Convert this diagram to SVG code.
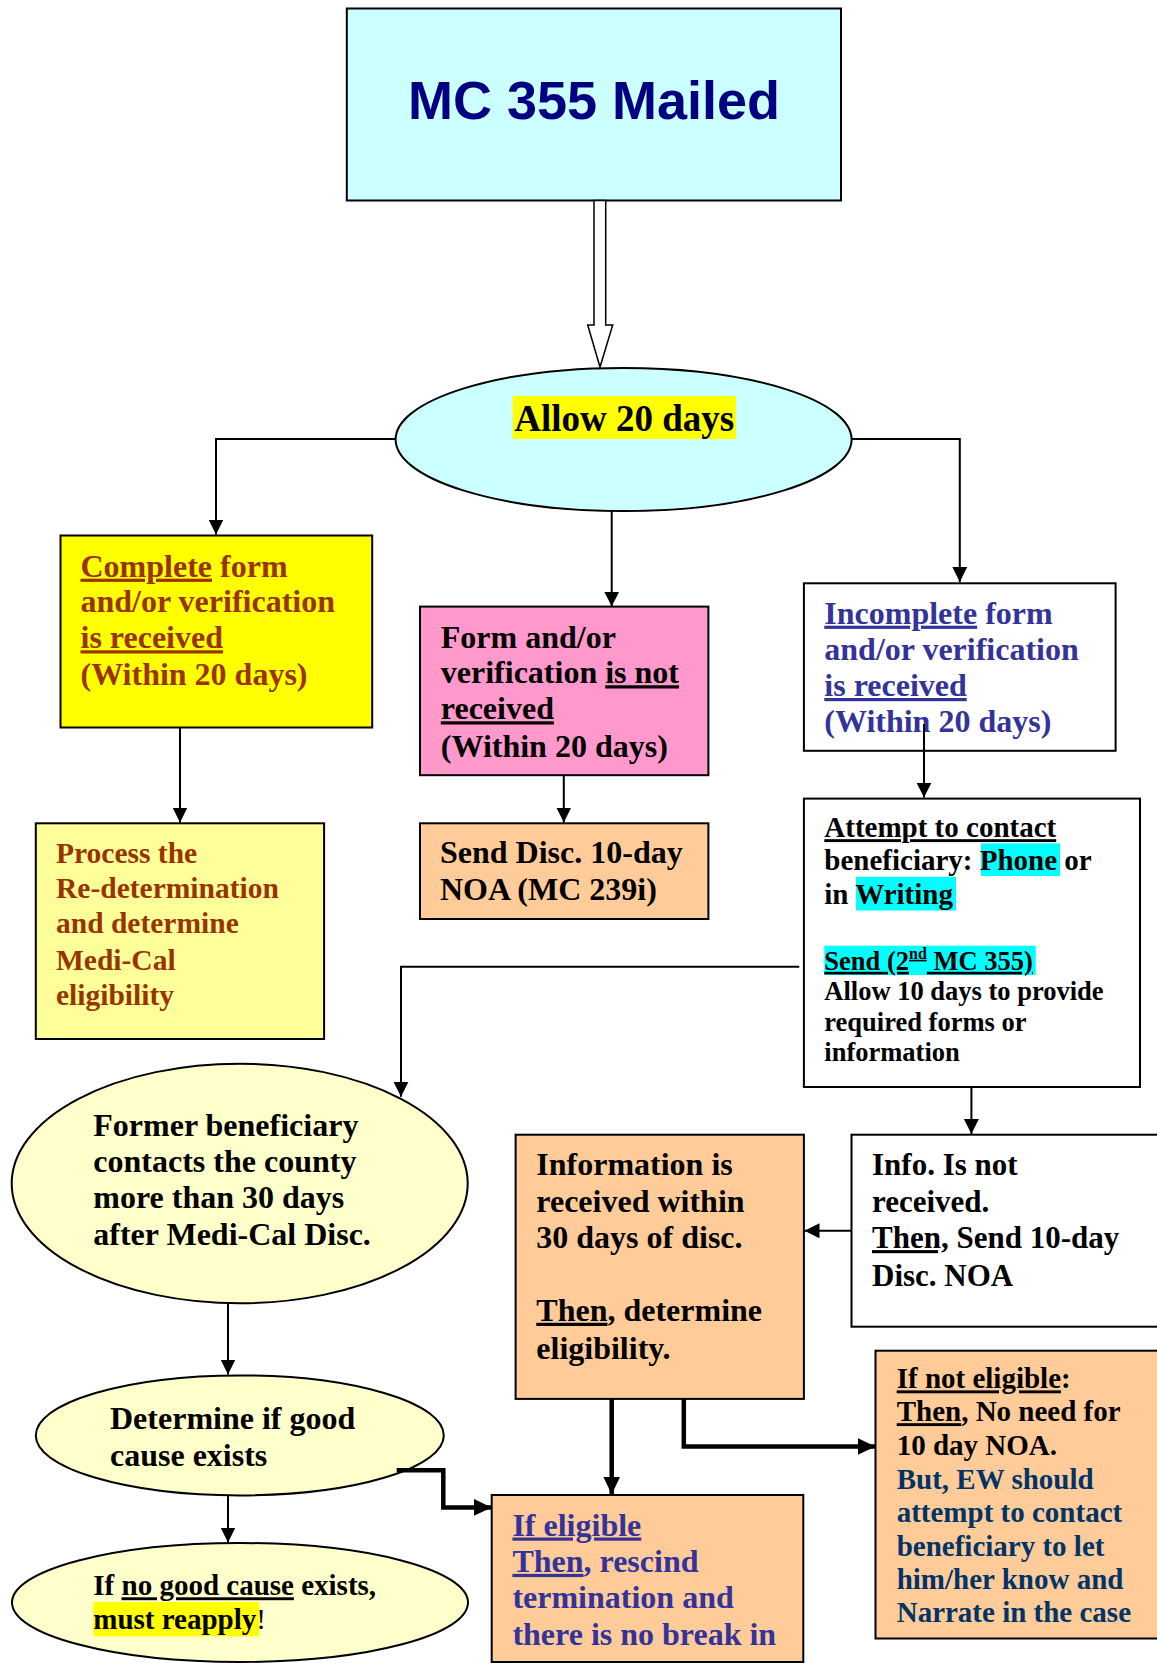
<svg xmlns="http://www.w3.org/2000/svg" width="1157" height="1663" viewBox="0 0 1157 1663">
<style>
.box{stroke:#000;stroke-width:2}
.t{font-family:"Liberation Serif","Times New Roman",serif;font-weight:bold}
.f32{font-size:32px}
.f31{font-size:31px}
.f30{font-size:29.5px}
.f29{font-size:29px}
.f26{font-size:26.5px}
.u{text-decoration:underline}
.ln{fill:none;stroke:#000;stroke-width:2}
.thick{fill:none;stroke:#000;stroke-width:4.5}
.brown{fill:#993300}
.blue{fill:#333399}
.navy{fill:#003366}
</style>
<defs>
<marker id="ah" markerUnits="userSpaceOnUse" markerWidth="16" markerHeight="16" refX="15" refY="7.5" orient="auto">
<path d="M0,0 L15,7.5 L0,15 z" fill="#000"/>
</marker>
<marker id="ahb" markerUnits="userSpaceOnUse" markerWidth="20" markerHeight="20" refX="18" refY="8.5" orient="auto">
<path d="M0,0 L18,8.5 L0,17 z" fill="#000"/>
</marker>
</defs>
<rect width="1157" height="1663" fill="#fff"/>

<g id="mc355">
<rect class="box" x="346.8" y="8.5" width="494.2" height="192" fill="#CCFFFF"/>
<text x="594" y="119" text-anchor="middle" font-family="'Liberation Sans',Arial,sans-serif" font-weight="bold" font-size="54" fill="#000080">MC 355 Mailed</text>
</g>

<g id="allow20">
<ellipse class="box" cx="623.6" cy="439.5" rx="228" ry="71.6" fill="#CCFFFF"/>
<rect x="512.7" y="396" width="223.3" height="43" fill="#FFFF00"/>
<text class="t" x="624.3" y="431" text-anchor="middle" font-size="37">Allow 20 days</text>
</g>

<g id="complete">
<rect class="box" x="60.5" y="535.5" width="311.7" height="192" fill="#FFFF00"/>
<text class="t f32 brown" x="80.5"><tspan x="80.5" y="576.7"><tspan class="u">Complete</tspan> form</tspan><tspan x="80.5" y="612.3">and/or verification</tspan><tspan x="80.5" y="648.3" class="u">is received</tspan><tspan x="80.5" y="685">(Within 20 days)</tspan></text>
</g>

<g id="notreceived">
<rect class="box" x="420" y="606.6" width="288.4" height="168.6" fill="#FF99CC"/>
<text class="t f32" x="440.8"><tspan x="440.8" y="647.7">Form and/or</tspan><tspan x="440.8" y="683.3">verification <tspan class="u">is not</tspan></tspan><tspan x="440.8" y="719.3" class="u">received</tspan><tspan x="440.8" y="756.7">(Within 20 days)</tspan></text>
</g>

<g id="incomplete">
<rect class="box" x="803.9" y="583.3" width="311.7" height="167.5" fill="#fff"/>
<text class="t f32 blue" x="824.3"><tspan x="824.3" y="623.7"><tspan class="u">Incomplete</tspan> form</tspan><tspan x="824.3" y="659.9">and/or verification</tspan><tspan x="824.3" y="696" class="u">is received</tspan><tspan x="824.3" y="732.2">(Within 20 days)</tspan></text>
</g>

<g id="process">
<rect class="box" x="35.8" y="823.3" width="288.3" height="215.7" fill="#FFFF99"/>
<text class="t f30 brown" x="56"><tspan x="56" y="863.3">Process the</tspan><tspan x="56" y="897.7">Re-determination</tspan><tspan x="56" y="933.3">and determine</tspan><tspan x="56" y="970">Medi-Cal</tspan><tspan x="56" y="1005">eligibility</tspan></text>
</g>

<g id="senddisc">
<rect class="box" x="420" y="823.3" width="288.4" height="95.7" fill="#FFCC99"/>
<text class="t f32" x="440"><tspan x="440" y="863.3">Send Disc. 10-day</tspan><tspan x="440" y="900">NOA (MC 239i)</tspan></text>
</g>

<g id="attempt">
<rect class="box" x="803.9" y="798.6" width="336.1" height="288.4" fill="#fff"/>
<rect x="981" y="843.4" width="79" height="32.6" fill="#00FFFF"/>
<rect x="856" y="876.8" width="100" height="33.7" fill="#00FFFF"/>
<rect x="824.3" y="945.7" width="211.4" height="29.3" fill="#00FFFF"/>
<text class="t f29" x="824.3"><tspan x="824.3" y="837.2" class="u">Attempt to contact</tspan><tspan x="824.3" y="870">beneficiary: Phone or</tspan><tspan x="824.3" y="904.3">in Writing</tspan></text>
<text class="t f26" x="824.3" y="969.8"><tspan class="u">Send (2</tspan><tspan class="u" font-size="16" dy="-11">nd</tspan><tspan class="u" dy="11"> MC 355)</tspan></text>
<text class="t f26" x="824.3"><tspan x="824.3" y="1000">Allow 10 days to provide</tspan><tspan x="824.3" y="1030.5">required forms or</tspan><tspan x="824.3" y="1061">information</tspan></text>
</g>

<g id="former">
<ellipse class="box" cx="239.7" cy="1183.5" rx="228" ry="119.8" fill="#FFFFCC"/>
<text class="t f32" x="93.3"><tspan x="93.3" y="1135.5">Former beneficiary</tspan><tspan x="93.3" y="1171.5">contacts the county</tspan><tspan x="93.3" y="1208.2">more than 30 days</tspan><tspan x="93.3" y="1245.3">after Medi-Cal Disc.</tspan></text>
</g>

<g id="inforeceived">
<rect class="box" x="515.6" y="1134.7" width="288.3" height="264.2" fill="#FFCC99"/>
<text class="t f32" x="536.3"><tspan x="536.3" y="1175.4">Information is</tspan><tspan x="536.3" y="1211.8">received within</tspan><tspan x="536.3" y="1248.1">30 days of disc.</tspan><tspan x="536.3" y="1320.8"><tspan class="u">Then</tspan>, determine</tspan><tspan x="536.3" y="1358.9">eligibility.</tspan></text>
</g>

<g id="infonot">
<rect class="box" x="851.5" y="1134.7" width="310" height="192" fill="#fff"/>
<text class="t f31" x="872"><tspan x="872" y="1175.4">Info. Is not</tspan><tspan x="872" y="1211.8">received.</tspan><tspan x="872" y="1248.1"><tspan class="u">Then,</tspan> Send 10-day</tspan><tspan x="872" y="1286.2">Disc. NOA</tspan></text>
</g>

<g id="determine">
<ellipse class="box" cx="239.8" cy="1435.4" rx="204" ry="60" fill="#FFFFCC"/>
<text class="t f32" x="110"><tspan x="110" y="1429.2">Determine if good</tspan><tspan x="110" y="1466.3">cause exists</tspan></text>
</g>

<g id="notEligible">
<rect class="box" x="875.5" y="1350.7" width="290" height="287.8" fill="#FFCC99"/>
<text class="t f29" x="896.7"><tspan x="896.7" y="1388.4"><tspan class="u">If not eligible</tspan>:</tspan><tspan x="896.7" y="1421.2"><tspan class="u">Then</tspan>, No need for</tspan><tspan x="896.7" y="1455.2">10 day NOA.</tspan></text>
<text class="t f29 navy" x="896.7"><tspan x="896.7" y="1488.8">But, EW should</tspan><tspan x="896.7" y="1521.7">attempt to contact</tspan><tspan x="896.7" y="1556.3">beneficiary to let</tspan><tspan x="896.7" y="1589.2">him/her know and</tspan><tspan x="896.7" y="1622">Narrate in the case</tspan></text>
</g>

<g id="noGoodCause">
<ellipse class="box" cx="240" cy="1602.5" rx="228" ry="59.5" fill="#FFFFCC"/>
<rect x="93.3" y="1602" width="165.7" height="34.4" fill="#FFFF00"/>
<text class="t f29" x="93.3"><tspan x="93.3" y="1595.3">If <tspan class="u">no good cause</tspan> exists,</tspan><tspan x="93.3" y="1628.6">must reapply<tspan font-weight="normal">!</tspan></tspan></text>
</g>

<g id="eligible">
<rect class="box" x="491.7" y="1495" width="311.6" height="167" fill="#FFCC99"/>
<text class="t f32 blue" x="512.4"><tspan x="512.4" y="1535.5" class="u">If eligible</tspan><tspan x="512.4" y="1571.9"><tspan class="u">Then</tspan>, rescind</tspan><tspan x="512.4" y="1608.2">termination and</tspan><tspan x="512.4" y="1644.6">there is no break in</tspan></text>
</g>

<g id="connectors">
<polygon points="594,200.4 605.7,200.4 605.7,325 612.7,325 600,367 587.7,325 594,325" fill="#fff" stroke="#000" stroke-width="1.5"/>
<path class="ln" d="M396,439 H216 V534.5" marker-end="url(#ah)"/>
<path class="ln" d="M851.6,439 H959.8 V582" marker-end="url(#ah)"/>
<path class="ln" d="M611.7,511 V606.6" marker-end="url(#ah)"/>
<path class="ln" d="M180,727.5 V822.5" marker-end="url(#ah)"/>
<path class="ln" d="M563.8,775.2 V822.5" marker-end="url(#ah)"/>
<path class="ln" d="M924,724 V797.6" marker-end="url(#ah)"/>
<path class="ln" d="M799.3,966.7 H401 V1096.7" marker-end="url(#ah)"/>
<path class="ln" d="M971.4,1087 V1134" marker-end="url(#ah)"/>
<path class="ln" d="M851.3,1230.8 H804.5" marker-end="url(#ah)"/>
<path class="ln" d="M228,1303.4 V1374.5" marker-end="url(#ah)"/>
<path class="ln" d="M228,1495.3 V1542.5" marker-end="url(#ah)"/>
<path class="thick" d="M396.7,1470.3 H443.3 V1507.4 H491.7" marker-end="url(#ahb)"/>
<path class="thick" d="M683.8,1399 V1446.5 H875.5" marker-end="url(#ahb)"/>
<path class="thick" d="M611.7,1399 V1494.5" marker-end="url(#ahb)"/>
</g>
</svg>
